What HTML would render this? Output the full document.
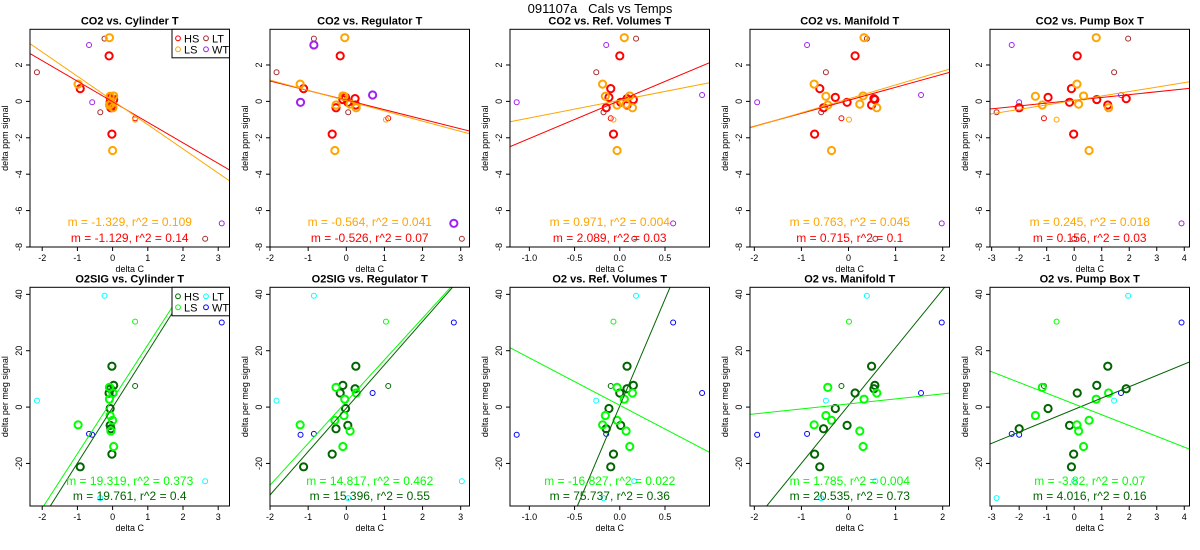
<!DOCTYPE html>
<html><head><meta charset="utf-8"><style>
html,body{margin:0;padding:0;background:#fff;width:1200px;height:550px;overflow:hidden;}
svg{display:block;font-family:"Liberation Sans",sans-serif;}
</style></head><body>
<svg id="chart" width="1200" height="550" viewBox="0 0 1200 550" xmlns="http://www.w3.org/2000/svg">
<text x="600" y="13" text-anchor="middle" font-size="13">091107a&#160;&#160;&#160;Cals vs Temps</text>
</svg>
<script>
const titlesTop=["CO2 vs. Cylinder T","CO2 vs. Regulator T","CO2 vs. Ref. Volumes T","CO2 vs. Manifold T","CO2 vs. Pump Box T"];
const titlesBottom=["O2SIG vs. Cylinder T","O2SIG vs. Regulator T","O2 vs. Ref. Volumes T","O2 vs. Manifold T","O2 vs. Pump Box T"];
const hsCO2=[2.5,0.7,0.22,0.15,0.1,-0.05,-0.2,-0.35,-1.8];
const hsO2=[5,-21.2,-0.5,6.5,7.7,-6.5,14.5,-7.7,-16.7];
const lsCO2=[3.5,0.95,0.3,0.28,-0.15,-0.2,-0.35,-2.7];
const lsO2=[2.8,-6.3,-14,-3,-8.5,7,5,-4.7];
const hsExtraCO2=[-0.93], hsExtraO2=[7.5];
const lsExtraCO2=[-1.0], lsExtraO2=[30.3];
const ltCO2=[3.45,1.6,-0.6,-7.55], ltO2=[39.5,2.3,-32.3,-26.3];
const wtCO2=[3.1,-0.05,0.35,-6.7], wtO2=[-9.5,-9.8,5,30];
const hsX=[[-0.1,-0.92,-0.07,-0.06,0.03,-0.07,-0.02,-0.05,-0.02],[-0.16,-1.12,-0.02,0.23,-0.09,0.04,0.25,-0.27,-0.37],[0,-0.1,-0.12,0.08,0.15,0.01,0.08,-0.15,-0.07],[0.14,-0.61,-0.28,0.54,0.56,-0.03,0.49,-0.53,-0.72],[0.11,-0.1,-0.95,1.89,0.82,-0.17,1.22,-2.0,-0.02]];
const lsX=[[-0.09,-0.98,0.03,-0.07,-0.05,-0.09,0.01,0],[-0.04,-1.21,-0.09,-0.06,0.1,-0.27,0.26,-0.3],[0.05,-0.19,0.11,-0.16,0.07,-0.03,0.14,-0.03],[0.33,-0.73,0.31,-0.48,0.24,-0.44,0.6,-0.36],[0.8,0.1,0.34,-1.41,0.16,-1.16,1.25,0.54]];
const hsExtraX=[0.64,1.1,-0.1,-0.15,-1.1];
const lsExtraX=[0.64,1.04,-0.07,0.01,-0.64];
const ltX=[[-0.23,-2.15,-0.35,2.63],[-0.85,-1.83,0.05,3.03],[0.18,-0.26,-0.18,0.16],[0.39,-0.48,-0.58,0.57],[1.96,1.45,-2.82,0]];
const wtX=[[-0.67,-0.58,0.03,3.1],[-0.85,-1.2,0.69,2.82],[-0.15,-1.14,0.91,0.59],[-0.88,-1.94,1.54,1.98],[-2.27,-2.0,1.7,3.9]];
const wtThickTop=[false,true,false,false,false];
const xDomains=[[-2.347,3.321],[-2.001,3.231],[-1.214,0.992],[-2.092,2.145],[-3.06,4.19]];
const xTicks=[[-2,-1,0,1,2,3],[-2,-1,0,1,2,3],[-1,-0.5,0,0.5],[-2,-1,0,1,2],[-3,-2,-1,0,1,2,3,4]];
const xTickLabels=[["-2","-1","0","1","2","3"],["-2","-1","0","1","2","3"],["-1.0","-0.5","0.0","0.5"],["-2","-1","0","1","2"],["-3","-2","-1","0","1","2","3","4"]];
const yDomainTop=[-8,3.96], yDomainBottom=[-35.1,42.5];
const yTicksTop=[-8,-6,-4,-2,0,2], yTicksBottom=[-20,0,20,40];
const hsSlopeTop=[-1.129,-0.526,2.089,0.715,0.156], hsR2Top=["0.14","0.07","0.03","0.1","0.03"], hsIntTop=[-0.02,0.07,0.05,0.06,0.06];
const lsSlopeTop=[-1.329,-0.564,0.971,0.763,0.245], lsR2Top=["0.109","0.041","0.004","0.045","0.018"], lsIntTop=[0.05,0.04,0.06,0.14,0.05];
const hsSlopeBot=[19.761,15.396,75.737,20.535,4.016], hsR2Bot=["0.4","0.55","0.36","0.73","0.16"], hsIntBot=[-0.12,-0.4,0.42,0.59,-0.81];
const lsSlopeBot=[19.319,14.817,-16.827,1.785,-3.82], lsR2Bot=["0.373","0.462","0.022","0.004","0.07"], lsIntBot=[2.76,1.93,0.63,1.13,1.09];

const NS="http://www.w3.org/2000/svg";
const svg=document.getElementById('chart');
function mk(tag,attrs,parent,text){const e=document.createElementNS(NS,tag);for(const k in attrs)e.setAttribute(k,attrs[k]);if(text!==undefined)e.textContent=text;(parent||svg).appendChild(e);return e;}

const rows=[
 {top:29.3,bot:247,yd:yDomainTop,yt:yTicksTop,ylab:"delta ppm signal",titles:titlesTop,
  cols:{hs:"#ff0000",ls:"#ffa500",lt:"#a52a2a",wt:"#a020f0"},
  hsY:hsCO2,lsY:lsCO2,hsE:hsExtraCO2,lsE:lsExtraCO2,ltY:ltCO2,wtY:wtCO2,
  hsS:hsSlopeTop,hsR:hsR2Top,hsI:hsIntTop,lsS:lsSlopeTop,lsR:lsR2Top,lsI:lsIntTop,lab:[226,242]},
 {top:287.3,bot:506,yd:yDomainBottom,yt:yTicksBottom,ylab:"delta per meg signal",titles:titlesBottom,
  cols:{hs:"#006400",ls:"#00ff00",lt:"#00ffff",wt:"#0000ff"},
  hsY:hsO2,lsY:lsO2,hsE:hsExtraO2,lsE:lsExtraO2,ltY:ltO2,wtY:wtO2,
  hsS:hsSlopeBot,hsR:hsR2Bot,hsI:hsIntBot,lsS:lsSlopeBot,lsR:lsR2Bot,lsI:lsIntBot,lab:[485,500]}
];

rows.forEach((R,ri)=>{
 for(let k=0;k<5;k++){
  const L=30+240*k, Rt=229.5+240*k;
  const xd=xDomains[k];
  const sx=v=>L+(v-xd[0])/(xd[1]-xd[0])*(Rt-L);
  const sy=v=>R.bot-(v-R.yd[0])/(R.yd[1]-R.yd[0])*(R.bot-R.top);
  const g=mk('g',{});
  
  
  const cid='clip'+ri+k;
  const cp=mk('clipPath',{id:cid},g);mk('rect',{x:L,y:R.top,width:Rt-L,height:R.bot-R.top},cp);
  const t=mk('text',{x:(L+Rt)/2,y:R.top-5,'text-anchor':'middle','font-size':11,'font-weight':'bold'},g,R.titles[k]);
  
  
  xTicks[k].forEach((v,i)=>{
   mk('line',{x1:sx(v),x2:sx(v),y1:R.bot,y2:R.bot+4,stroke:'#000'},g);
   const tl=mk('text',{x:sx(v),y:R.bot+14,'text-anchor':'middle','font-size':9},g,xTickLabels[k][i]);
   
   
  });
  const xl=mk('text',{x:(L+Rt)/2,y:R.bot+25,'text-anchor':'middle','font-size':9},g,'delta C');
  
  
  R.yt.forEach(v=>{
   mk('line',{x1:L-4,x2:L,y1:sy(v),y2:sy(v),stroke:'#000'},g);
   const yl=mk('text',{x:L-8,y:sy(v),'text-anchor':'middle','font-size':9,transform:`rotate(-90 ${L-8} ${sy(v)})`},g,String(v));
   
   
  });
  const yc=(R.top+R.bot)/2;
  const ya=mk('text',{x:L-22,y:yc,'text-anchor':'middle','font-size':9,transform:`rotate(-90 ${L-22} ${yc})`},g,R.ylab);
  
  
  const pts=(xs,ys,col,thick,name)=>{xs.forEach((x,i)=>{
   const c=mk('circle',{cx:sx(x),cy:sy(ys[i]),r:thick?3.6:2.5,fill:'none',stroke:col,'stroke-width':thick?2:1},g);
   
   
  });};
  pts(ltX[k],R.ltY,R.cols.lt,false,'lt');
  pts(wtX[k],R.wtY,R.cols.wt,ri===0&&wtThickTop[k],'wt');
  pts([hsExtraX[k]],R.hsE,R.cols.hs,false,'hs-extra');
  pts([lsExtraX[k]],R.lsE,R.cols.ls,false,'ls-extra');
  pts(hsX[k],R.hsY,R.cols.hs,true,'hs');
  pts(lsX[k],R.lsY,R.cols.ls,true,'ls');
  const fl=(m,b,col,name)=>{
   const ln=mk('line',{x1:sx(xd[0]),y1:sy(m*xd[0]+b),x2:sx(xd[1]),y2:sy(m*xd[1]+b),stroke:col,'stroke-width':1,'clip-path':`url(#${cid})`},g);
   
   
  };
  fl(R.hsS[k],R.hsI[k],R.cols.hs,'hs');
  fl(R.lsS[k],R.lsI[k],R.cols.ls,'ls');
  const t1=mk('text',{x:(L+Rt)/2,y:R.lab[0],'text-anchor':'middle','font-size':12,fill:R.cols.ls},g,'m = '+R.lsS[k]+', r^2 = '+R.lsR[k]);
  
  
  const t2=mk('text',{x:(L+Rt)/2,y:R.lab[1],'text-anchor':'middle','font-size':12,fill:R.cols.hs},g,'m = '+R.hsS[k]+', r^2 = '+R.hsR[k]);
  
  
  const box=mk('rect',{x:L,y:R.top,width:Rt-L,height:R.bot-R.top,fill:'none',stroke:'#000','stroke-width':1},g);
  
  
  if(k===0){
   const lg=mk('g',{},g);
   
   
   mk('rect',{x:172,y:R.top,width:57.5,height:28.5,fill:'#fff',stroke:'#000'},lg);
   const ents=[['HS',R.cols.hs,178,R.top+9],['LS',R.cols.ls,178,R.top+20],['LT',R.cols.lt,206,R.top+9],['WT',R.cols.wt,206,R.top+20]];
   ents.forEach(e=>{
    const eg=mk('g',{},lg);
    
    
    mk('circle',{cx:e[2],cy:e[3],r:2.4,fill:'none',stroke:e[1],'stroke-width':1},eg);
    mk('text',{x:e[2]+6,y:e[3]+4,'font-size':11},eg,e[0]);
   });
  }
 }
});
</script>
</body></html>
